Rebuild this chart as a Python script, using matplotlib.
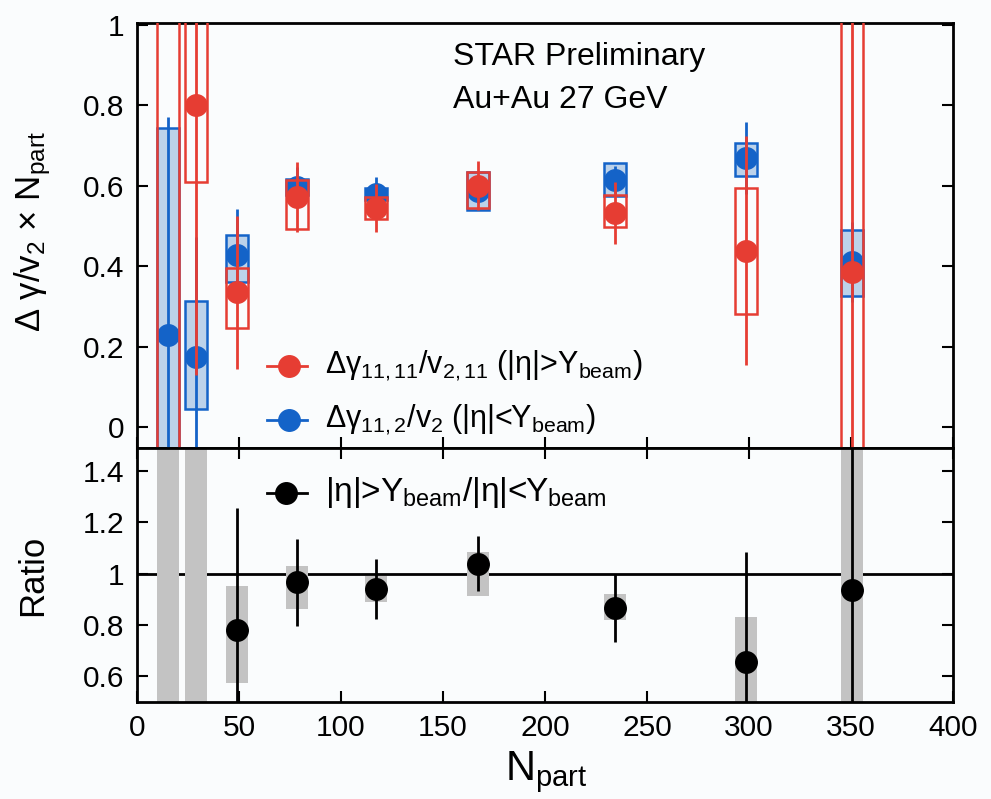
import matplotlib
matplotlib.use("Agg")
import matplotlib.pyplot as plt
from matplotlib.ticker import FuncFormatter

plt.rcParams['font.family'] = ['Liberation Sans', 'DejaVu Sans']
plt.rcParams['mathtext.fontset'] = 'custom'
plt.rcParams['mathtext.rm'] = 'Liberation Sans'
plt.rcParams['mathtext.it'] = 'Liberation Sans'
plt.rcParams['mathtext.bf'] = 'Liberation Sans:bold'
plt.rcParams['mathtext.sf'] = 'Liberation Sans'

# Centrality bins (number of participants)
npart = [15.3, 28.8, 48.9, 78.3, 117.2, 167.3, 234.3, 298.5, 350.5]

# Delta gamma_{11,11} / v_{2,11} x Npart  (|eta| > Y_beam)
red_val = [2.5, 0.80, 0.335, 0.572, 0.545, 0.600, 0.532, 0.438, 0.386]
red_stat = [1.2, 0.67, 0.19, 0.087, 0.06, 0.06, 0.078, 0.285, 1.5]
red_sys_lo = [3.0, 0.19, 0.09, 0.079, 0.027, 0.055, 0.034, 0.158, 1.5]
red_sys_hi = [3.0, 0.25, 0.06, 0.042, 0.027, 0.034, 0.044, 0.155, 1.5]

# Delta gamma_{11,2} / v_2 x Npart  (|eta| < Y_beam)
blue_val = [0.229, 0.173, 0.427, 0.597, 0.580, 0.587, 0.614, 0.668, 0.410]
blue_stat = [0.542, 0.30, 0.116, 0.05, 0.042, 0.03, 0.035, 0.09, 0.10]
blue_sys_lo = [0.515, 0.129, 0.067, 0.02, 0.015, 0.047, 0.04, 0.044, 0.085]
blue_sys_hi = [0.515, 0.140, 0.050, 0.02, 0.015, 0.047, 0.041, 0.037, 0.079]

# Ratio |eta|>Y_beam / |eta|<Y_beam
ratio_val = [10.9, 4.6, 0.782, 0.966, 0.940, 1.039, 0.866, 0.654, 0.938]
ratio_stat = [8.0, 2.5, 0.474, 0.168, 0.118, 0.107, 0.133, 0.43, 1.0]
ratio_sys_lo = [12.0, 4.2, 0.206, 0.104, 0.05, 0.127, 0.046, 0.176, 1.0]
ratio_sys_hi = [12.0, 4.2, 0.169, 0.066, 0.05, 0.044, 0.056, 0.176, 1.0]

top_yticks = [0, 0.2, 0.4, 0.6, 0.8, 1.0]
ratio_yticks = [0.6, 0.8, 1.0, 1.2, 1.4]
x_ticks = [0, 50, 100, 150, 200, 250, 300, 350, 400]

RED = '#e63d33'
BLUE = '#1463c8'
LIGHTBLUE = '#bcd2ea'
GRAY = '#c3c3c3'
BG = '#fafcfd'
box_hw = 5.4
TICK_FS = 21.5

fig = plt.figure(figsize=(9.91, 7.99), dpi=100, facecolor=BG)
W, H = 991, 799
ax1 = fig.add_axes([137 / W, 1 - 448 / H, 816 / W, 425 / H], facecolor=BG)
ax2 = fig.add_axes([137 / W, 1 - 702 / H, 816 / W, 254 / H], facecolor=BG)

fmt = FuncFormatter(lambda v, p: f"{v:g}")


def boxes(ax, x, val, lo, hi, face, edge, z):
    bottoms = [v - l for v, l in zip(val, lo)]
    heights = [l + h for l, h in zip(lo, hi)]
    ax.bar(x, heights, bottom=bottoms, width=2 * box_hw, facecolor=face,
           edgecolor=edge, linewidth=1.8, zorder=z)


# ---- upper panel ----
boxes(ax1, npart, blue_val, blue_sys_lo, blue_sys_hi, LIGHTBLUE, BLUE, 2)
ax1.errorbar(npart, blue_val, yerr=blue_stat, fmt='o', ms=15.5, color=BLUE,
             elinewidth=2, capsize=0, zorder=3)
boxes(ax1, npart, red_val, red_sys_lo, red_sys_hi, 'none', RED, 4)
ax1.errorbar(npart, red_val, yerr=red_stat, fmt='o', ms=15.5, color=RED,
             elinewidth=2, capsize=0, zorder=5)

ax1.set_xlim(0, 400)
ax1.set_ylim(-0.052, 1.004)
ax1.set_yticks(top_yticks)
ax1.yaxis.set_major_formatter(fmt)
ax1.set_xticks(x_ticks)
ax1.tick_params(axis='both', direction='in', length=8, width=1.5,
                top=False, bottom=True, left=True, right=True,
                labelbottom=False, labelsize=TICK_FS, pad=9)

ax1.text(0.387, 0.92, 'STAR Preliminary', transform=ax1.transAxes,
         fontsize=23, ha='left', va='center')
ax1.text(0.387, 0.819, 'Au+Au 27 GeV', transform=ax1.transAxes,
         fontsize=23, ha='left', va='center')

# legend rows
leg_rows = [
    (0.193, RED, r'$\Delta\gamma_{11,11}/v_{2,11}$ (|$\eta$|>Y$_{\rm beam}$)'),
    (0.066, BLUE, r'$\Delta\gamma_{11,2}/v_{2}$ (|$\eta$|<Y$_{\rm beam}$)'),
]
for yy, col, lab in leg_rows:
    ax1.plot([0.159, 0.208], [yy, yy], color=col, lw=2, transform=ax1.transAxes)
    ax1.plot([0.186], [yy], 'o', ms=15.5, color=col, transform=ax1.transAxes)
    ax1.text(0.230, yy, lab, transform=ax1.transAxes, fontsize=22,
             ha='left', va='center')

# ---- ratio panel ----
ax2.axhline(1.0, color='black', lw=2, zorder=1)
boxes(ax2, npart, ratio_val, ratio_sys_lo, ratio_sys_hi, GRAY, 'none', 2)
ax2.errorbar(npart, ratio_val, yerr=ratio_stat, fmt='o', ms=15.5, color='black',
             elinewidth=2, capsize=0, zorder=3)
ax2.set_xlim(0, 400)
ax2.set_ylim(0.5, 1.49)
ax2.set_yticks(ratio_yticks)
ax2.yaxis.set_major_formatter(fmt)
ax2.set_xticks(x_ticks)
ax2.xaxis.set_major_formatter(fmt)
ax2.tick_params(axis='both', direction='in', length=8, width=1.5,
                top=True, bottom=True, left=True, right=True,
                labelsize=TICK_FS, pad=9)

yy = 0.823
ax2.plot([0.159, 0.208], [yy, yy], color='black', lw=2, transform=ax2.transAxes)
ax2.plot([0.182], [yy], 'o', ms=15.5, color='black', transform=ax2.transAxes)
ax2.text(0.230, yy, r'|$\eta$|>Y$_{\rm beam}$/|$\eta$|<Y$_{\rm beam}$',
         transform=ax2.transAxes, fontsize=24, ha='left', va='center')

for ax in (ax1, ax2):
    for sp in ax.spines.values():
        sp.set_linewidth(2)

# axis titles
fig.text(33 / W, 1 - 232 / H, r'$\Delta$ $\gamma$/v$_2$ × N$_{\rm part}$',
         rotation=90, ha='center', va='center', fontsize=25)
fig.text(33 / W, 1 - 575 / H, 'Ratio', rotation=90, ha='center', va='center',
         fontsize=25)
fig.text(546 / W, 1 - 772 / H, r'N$_{\rm part}$', ha='center', va='center',
         fontsize=30)

fig.savefig('out.png', dpi=100, facecolor=BG)
